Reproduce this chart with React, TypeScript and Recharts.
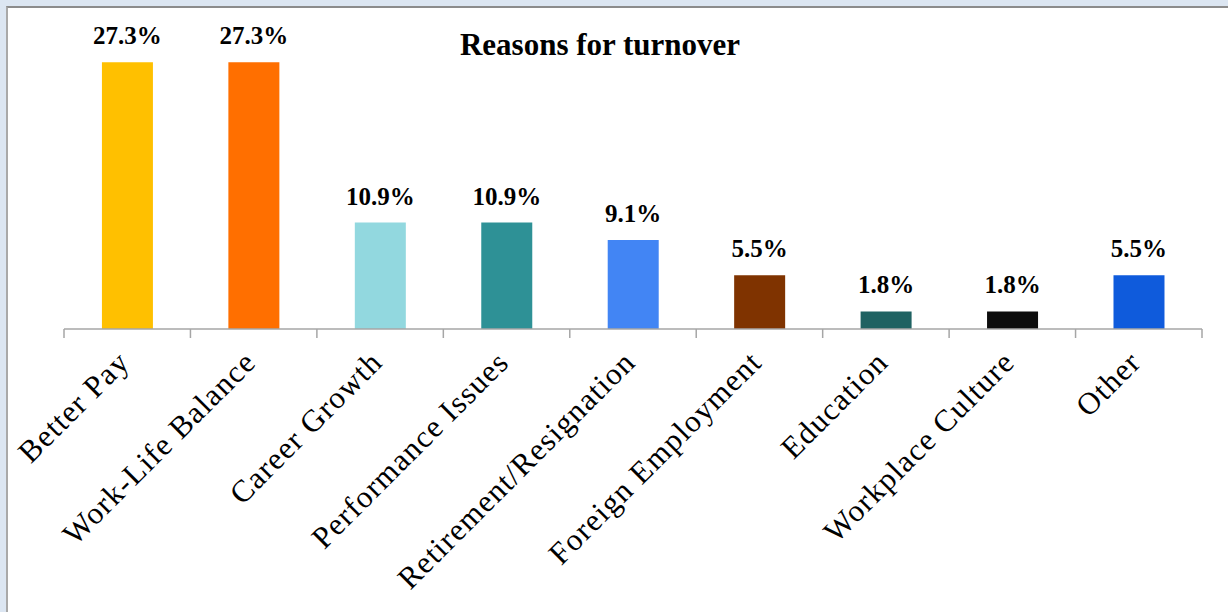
import React from 'react';
import { BarChart, Bar, XAxis, YAxis, Cell, LabelList } from 'recharts';

const categories = [
  'Better Pay',
  'Work-Life Balance',
  'Career Growth',
  'Performance Issues',
  'Retirement/Resignation',
  'Foreign Employment',
  'Education',
  'Workplace Culture',
  'Other',
];
const shares = [27.3, 27.3, 10.9, 10.9, 9.1, 5.5, 1.8, 1.8, 5.5];
const barColors = [
  '#FFC000',
  '#FF6F00',
  '#92D8DF',
  '#2E9196',
  '#4285F4',
  '#7F3300',
  '#1F6262',
  '#0D0D0D',
  '#0F5BDC',
];

const data = categories.map((name, i) => ({ name, value: shares[i] }));

const W = 1228;
const H = 612;
const LEFT = 64;
const RIGHT = 26;
const band = (W - LEFT - RIGHT) / categories.length;
const serif = '"Liberation Serif", "Times New Roman", serif';
const axisGray = '#a6a6a6';

const CategoryTick = (props: any) => {
  const { x, y, payload, index } = props;
  const last = index === categories.length - 1;
  return (
    <g>
      <line x1={x - band / 2} y1={y - 9} x2={x - band / 2} y2={y} stroke={axisGray} strokeWidth={1.5} />
      {last && (
        <line x1={x + band / 2} y1={y - 9} x2={x + band / 2} y2={y} stroke={axisGray} strokeWidth={1.5} />
      )}
      <g transform={`translate(${x + 4},${y + 26})`}>
        <text
          textAnchor="end"
          transform="rotate(-45)"
          fontFamily={serif}
          fontSize={31}
          letterSpacing={1.2}
          fill="#000"
        >
          {payload.value}
        </text>
      </g>
    </g>
  );
};

export default function App() {
  return (
    <div style={{ position: 'fixed', left: 0, top: 0, width: W, height: H, background: '#dce6f2', overflow: 'hidden' }}>
      <div
        style={{
          position: 'absolute',
          left: 6,
          top: 6,
          width: W,
          height: H,
          background: '#fff',
          borderLeft: '2px solid #a9a9a9',
          borderTop: '2px solid #8c8c8c',
        }}
      />
      <div
        style={{
          position: 'absolute',
          left: 0,
          width: W,
          top: 27,
          fontFamily: serif,
          fontWeight: 'bold',
          fontSize: 31,
          color: '#000',
          zIndex: 2,
        }}
      >
        <span style={{ position: 'absolute', left: 600, transform: 'translateX(-50%)', whiteSpace: 'nowrap' }}>
          Reasons for turnover
        </span>
      </div>
      <div style={{ position: 'absolute', left: 0, top: 0 }}>
        <BarChart width={W} height={H} data={data} margin={{ top: 36, right: RIGHT, bottom: 0, left: LEFT }} barCategoryGap="30%">
          <XAxis
            dataKey="name"
            height={283}
            interval={0}
            axisLine={{ stroke: axisGray, strokeWidth: 1.5 }}
            tickLine={false}
            tickSize={9}
            tickMargin={0}
            tick={<CategoryTick />}
          />
          <YAxis hide domain={[0, 30]} width={0} />
          <Bar dataKey="value" isAnimationActive={false}>
            {data.map((d, i) => (
              <Cell key={d.name} fill={barColors[i]} />
            ))}
            <LabelList
              dataKey="value"
              position="top"
              offset={18}
              formatter={(v: any) => `${v}%`}
              style={{ fontFamily: serif, fontWeight: 'bold', fontSize: 25, fill: '#000' }}
            />
          </Bar>
        </BarChart>
      </div>
    </div>
  );
}
